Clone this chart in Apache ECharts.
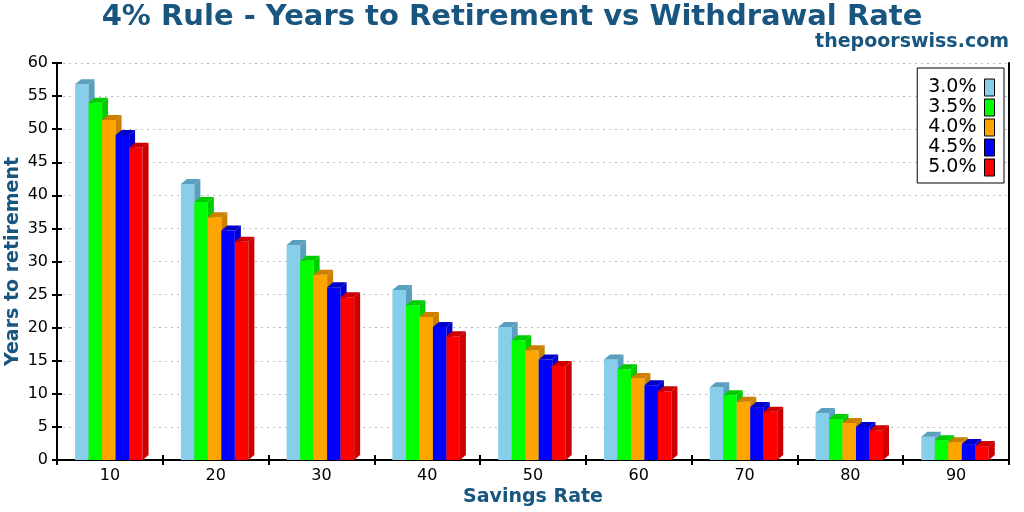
<!DOCTYPE html>
<html><head><meta charset="utf-8">
<script src="https://cdn.jsdelivr.net/npm/echarts@6/dist/echarts.min.js"></script>
<style>html,body{margin:0;padding:0;background:#fff}#c{width:1024px;height:512px}</style>
</head><body><div id="c"></div>
<script>
const categories = ['10', '20', '30', '40', '50', '60', '70', '80', '90'];
const seriesNames = ['3.0%', '3.5%', '4.0%', '4.5%', '5.0%'];
const rate30 = [56.8, 41.7, 32.5, 25.7, 20.1, 15.2, 11.0, 7.1, 3.5];
const rate35 = [54.0, 39.0, 30.1, 23.4, 18.1, 13.7, 9.8, 6.2, 3.0];
const rate40 = [51.4, 36.7, 28.0, 21.6, 16.6, 12.4, 8.8, 5.6, 2.7];
const rate45 = [49.1, 34.7, 26.1, 20.1, 15.2, 11.3, 8.0, 5.0, 2.4];
const rate50 = [47.2, 33.0, 24.6, 18.7, 14.2, 10.4, 7.3, 4.5, 2.1];
const yMin = 0, yMax = 60, yStep = 5;

const allRates = [rate30, rate35, rate40, rate45, rate50];
const frontColors = ['#87ceeb', '#00ff00', '#ffa500', '#0000ff', '#ff0000'];
const shadeColors = ['#5a9fbe', '#00cc00', '#cc7f00', '#0000cc', '#cc0000'];
const titleColor = '#18557f';
const FONT = 'DejaVu Sans';

function makeRender(idx) {
  return function (params, api) {
    const cat = api.value(0), v = api.value(1);
    const top = api.coord([cat, v]);
    const base = api.coord([cat, 0]);
    const W = api.size([1, 0])[0];
    const bw = W * 0.1276;
    const left = top[0] - W * 0.329 + idx * bw;
    const dx = 6, dy = 5;
    const yT = top[1], y0 = base[1];
    return {
      type: 'group',
      children: [
        { type: 'rect', shape: { x: left, y: yT, width: bw, height: y0 - yT },
          style: { fill: frontColors[idx] } },
        { type: 'polygon', shape: { points: [[left, yT], [left + dx, yT - dy], [left + bw + dx, yT - dy], [left + bw, yT]] },
          style: { fill: shadeColors[idx] } },
        { type: 'polygon', shape: { points: [[left + bw, yT], [left + bw + dx, yT - dy], [left + bw + dx, y0 - dy], [left + bw, y0]] },
          style: { fill: shadeColors[idx] } }
      ]
    };
  };
}

const series = seriesNames.map((name, i) => ({
  name: name,
  type: 'custom',
  xAxisIndex: 0,
  yAxisIndex: 0,
  itemStyle: { color: frontColors[i] },
  renderItem: makeRender(i),
  encode: { x: 0, y: 1 },
  data: allRates[i].map((v, k) => [k, v])
}));

const chart = echarts.init(document.getElementById('c'));
chart.setOption({
  animation: false,
  backgroundColor: '#fff',
  textStyle: { fontFamily: FONT },
  title: [
    { text: '4% Rule - Years to Retirement vs Withdrawal Rate', left: 'center', top: 3, padding: 0,
      textStyle: { fontFamily: FONT, fontSize: 29, fontWeight: 'bold', color: titleColor } },
    { text: 'thepoorswiss.com', right: 15, top: 33, padding: 0,
      textStyle: { fontFamily: FONT, fontSize: 19, fontWeight: 'bold', color: titleColor } }
  ],
  legend: {
    data: seriesNames,
    orient: 'vertical', align: 'right', right: 20, top: 68,
    icon: 'rect', itemWidth: 10, itemHeight: 17, itemGap: 1,
    padding: [10, 9, 6, 11],
    borderColor: '#000', borderWidth: 1, backgroundColor: '#fff',
    itemStyle: { borderColor: '#000', borderWidth: 1 },
    textStyle: { fontFamily: FONT, fontSize: 19, color: '#000', lineHeight: 17, padding: [0, 3, 0, 0] }
  },
  grid: { left: 57, right: 15, top: 63, bottom: 52, containLabel: false, outerBoundsMode: 'none' },
  xAxis: [
    { type: 'category', data: categories, position: 'bottom',
      axisLine: { show: true, lineStyle: { color: '#000', width: 2 } },
      axisTick: { show: true, length: 5, lineStyle: { color: '#000', width: 2 } },
      axisLabel: { color: '#000', fontSize: 16, margin: 8, fontFamily: FONT },
      splitLine: { show: false },
      name: 'Savings Rate', nameLocation: 'middle', nameGap: 28, nameMoveOverlap: false,
      nameTextStyle: { fontFamily: FONT, fontSize: 19, fontWeight: 'bold', color: titleColor } },
    { type: 'category', data: categories, position: 'bottom',
      axisLine: { show: false },
      axisTick: { show: true, inside: true, length: 5, lineStyle: { color: '#000', width: 2 } },
      axisLabel: { show: false }, splitLine: { show: false } }
  ],
  yAxis: [
    { type: 'value', min: yMin, max: yMax, interval: yStep, position: 'left',
      axisLine: { show: true, lineStyle: { color: '#000', width: 2 } },
      axisTick: { show: true, length: 5, lineStyle: { color: '#000', width: 2 } },
      axisLabel: { color: '#000', fontSize: 16, margin: 9, fontFamily: FONT },
      splitLine: { show: true, lineStyle: { color: '#bbbbbb', width: 1, type: [2, 4] } },
      name: 'Years to retirement', nameLocation: 'middle', nameGap: 34, nameRotate: 90, nameMoveOverlap: false,
      nameTextStyle: { fontFamily: FONT, fontSize: 19, fontWeight: 'bold', color: titleColor } },
    { type: 'value', min: yMin, max: yMax, interval: yStep, position: 'left',
      axisLine: { show: false },
      axisTick: { show: true, inside: true, length: 5, lineStyle: { color: '#000', width: 2 } },
      axisLabel: { show: false }, splitLine: { show: false } },
    { type: 'value', min: yMin, max: yMax, interval: yStep, position: 'right',
      axisLine: { show: true, lineStyle: { color: '#000', width: 2 } },
      axisTick: { show: false }, axisLabel: { show: false }, splitLine: { show: false } }
  ],
  series: series
});
</script></body></html>
